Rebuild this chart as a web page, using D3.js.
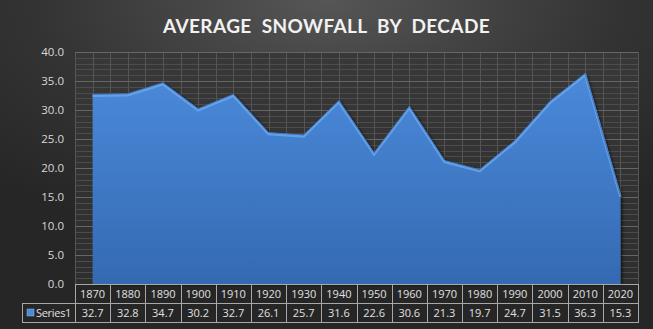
<!DOCTYPE html>
<html><head><meta charset="utf-8">
<script src="https://cdn.jsdelivr.net/npm/d3@7"></script>
<style>html,body{margin:0;padding:0;background:#2b2b2b;}svg{display:block;}</style>
</head><body>
<script>
const categories = ["1870","1880","1890","1900","1910","1920","1930","1940","1950","1960","1970","1980","1990","2000","2010","2020"];
const seriesValues = [32.7,32.8,34.7,30.2,32.7,26.1,25.7,31.6,22.6,30.6,21.3,19.7,24.7,31.5,36.3,15.3];
const seriesName = "Series1";
const yTicks = [0,5,10,15,20,25,30,35,40];
const title = "AVERAGE  SNOWFALL  BY  DECADE";

const W = 653, H = 329;
const m = {left:75, right:15, top:52, bottom:45};
const pw = W - m.left - m.right, ph = 284 - m.top;

const svg = d3.select("body").append("svg").attr("width", W).attr("height", H);
const defs = svg.append("defs");
const bg = defs.append("radialGradient").attr("id","bg").attr("cx","50%").attr("cy","0%").attr("r","75%");
bg.append("stop").attr("offset","0%").attr("stop-color","#565656");
bg.append("stop").attr("offset","60%").attr("stop-color","#333333");
bg.append("stop").attr("offset","100%").attr("stop-color","#262626");
const ag = defs.append("linearGradient").attr("id","ag").attr("x1",0).attr("y1",0).attr("x2",0).attr("y2",1);
ag.append("stop").attr("offset","0%").attr("stop-color","#4a8ada");
ag.append("stop").attr("offset","100%").attr("stop-color","#3569b2");
const pg = defs.append("linearGradient").attr("id","pg").attr("x1",0).attr("y1",0).attr("x2",0).attr("y2",1);
pg.append("stop").attr("offset","0%").attr("stop-color","#383838");
pg.append("stop").attr("offset","100%").attr("stop-color","#2e2e2e");
const sh = defs.append("filter").attr("id","sh").attr("x","-5%").attr("y","-5%").attr("width","110%").attr("height","110%");
sh.append("feDropShadow").attr("dx",2).attr("dy",1).attr("stdDeviation",1.5).attr("flood-color","#000").attr("flood-opacity",0.6);

svg.append("rect").attr("width",W).attr("height",H).attr("fill","url(#bg)");

const x = d3.scaleBand().domain(categories).range([m.left, m.left+pw]).paddingInner(0).paddingOuter(0);
const y = d3.scaleLinear().domain([0,40]).range([m.top+ph, m.top]);
const bw = x.bandwidth();

svg.append("rect").attr("x",m.left).attr("y",m.top).attr("width",pw).attr("height",ph).attr("fill","url(#pg)");

const minor = d3.range(0,41,1).filter(v=>v%5!==0);
svg.append("g").selectAll("line").data(minor).join("line")
  .attr("x1",m.left).attr("x2",m.left+pw).attr("y1",d=>Math.round(y(d))+0.5).attr("y2",d=>Math.round(y(d))+0.5)
  .attr("stroke","#4c4c4c").attr("stroke-width",1);
const vx = d3.range(0, categories.length*2+1).map(i=>m.left + i*bw/2);
svg.append("g").selectAll("line").data(vx).join("line")
  .attr("x1",d=>Math.round(d)+0.5).attr("x2",d=>Math.round(d)+0.5).attr("y1",m.top).attr("y2",m.top+ph)
  .attr("stroke","#555555").attr("stroke-width",1);
svg.append("g").selectAll("line").data(yTicks).join("line")
  .attr("x1",m.left).attr("x2",m.left+pw).attr("y1",d=>Math.round(y(d))+0.5).attr("y2",d=>Math.round(y(d))+0.5)
  .attr("stroke","#666666").attr("stroke-width",1);

const data = categories.map((c,i)=>({c, v:seriesValues[i]}));
const area = d3.area().x(d=>x(d.c)+bw/2).y0(y(0)).y1(d=>y(d.v));
const line = d3.line().x(d=>x(d.c)+bw/2).y(d=>y(d.v));
svg.append("path").datum(data).attr("d",area).attr("fill","url(#ag)").attr("filter","url(#sh)");
svg.append("path").datum(data).attr("d",line).attr("fill","none").attr("stroke","#6ea6ea").attr("stroke-width",2.5).attr("transform","translate(0,1.5)").attr("opacity",0.8);
svg.append("path").datum(data).attr("d",line).attr("fill","none").attr("stroke","#3a78c8").attr("stroke-width",1);

const yAxis = d3.axisLeft(y).tickValues(yTicks).tickFormat(d3.format(".1f")).tickSize(0).tickPadding(11);
const ga = svg.append("g").attr("transform",`translate(${m.left},0)`).call(yAxis);
ga.select(".domain").remove();
ga.selectAll("text").attr("fill","#d8d8d8").attr("font-family","'Open Sans', 'Noto Sans', sans-serif").attr("font-size",11.5);

svg.append("text").attr("x",W/2).attr("y",33).attr("text-anchor","middle")
  .attr("fill","#f2f2f2").attr("font-family","Lato, 'Open Sans', sans-serif").attr("font-weight","bold")
  .attr("font-size",19).attr("letter-spacing",0.4).attr("xml:space","preserve").style("white-space","pre").text(title);

const t = svg.append("g");
const r0 = 284, r1 = 303, r2 = 322, lx = 22;
const stroke = "#a8a8a8";
const hl = (x1,x2,yy)=>t.append("line").attr("x1",x1).attr("x2",x2).attr("y1",yy+0.5).attr("y2",yy+0.5).attr("stroke",stroke);
const vl = (xx,y1,y2)=>t.append("line").attr("x1",Math.round(xx)+0.5).attr("x2",Math.round(xx)+0.5).attr("y1",y1).attr("y2",y2).attr("stroke",stroke);
hl(m.left, m.left+pw, r0);
hl(lx, m.left+pw, r1);
hl(lx, m.left+pw, r2);
vl(lx, r1, r2+1);
categories.forEach(c=>vl(x(c), r0, r2+1));
vl(m.left+pw, r0, r2+1);
const tf = "'Open Sans', 'Noto Sans', sans-serif";
t.selectAll("text.cat").data(categories).join("text").attr("class","cat")
  .attr("x",d=>x(d)+bw/2).attr("y",r0+14).attr("text-anchor","middle")
  .attr("fill","#e0e0e0").attr("font-family",tf).attr("font-size",11).text(d=>d);
t.selectAll("text.val").data(data).join("text").attr("class","val")
  .attr("x",d=>x(d.c)+bw/2).attr("y",r1+14).attr("text-anchor","middle")
  .attr("fill","#e0e0e0").attr("font-family",tf).attr("font-size",11).text(d=>d.v.toFixed(1));
t.append("rect").attr("x",27).attr("y",r1+6).attr("width",7).attr("height",7).attr("fill","#4a8ad8").attr("stroke","#8fb8ea").attr("stroke-width",0.5);
t.append("text").attr("x",36).attr("y",r1+14).attr("fill","#e0e0e0").attr("font-family",tf).attr("font-size",11).attr("letter-spacing",-0.3).text(seriesName);
</script>
</body></html>
